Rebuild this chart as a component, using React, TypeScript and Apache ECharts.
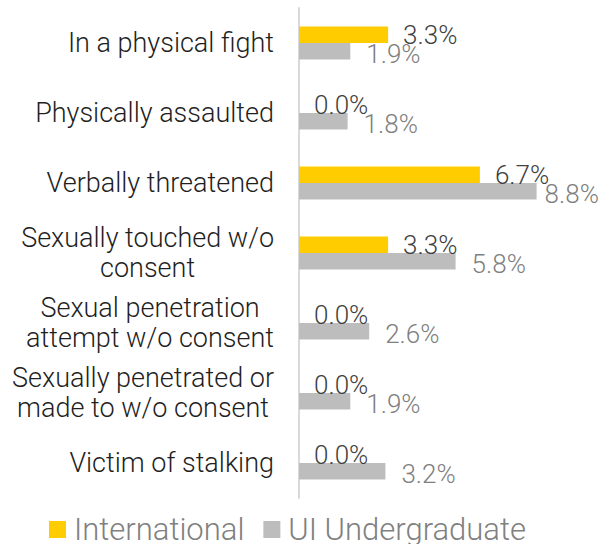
import React, { useEffect, useRef } from "react";
import * as echarts from "echarts";

const categories = [
  "In a physical fight",
  "Physically assaulted",
  "Verbally threatened",
  "Sexually touched w/o\nconsent",
  "Sexual penetration\nattempt w/o consent",
  "Sexually penetrated or\nmade to w/o consent",
  "Victim of stalking",
];
const internationalValues = [3.3, 0.0, 6.7, 3.3, 0.0, 0.0, 0.0];
const uiUndergradValues = [1.9, 1.8, 8.8, 5.8, 2.6, 1.9, 3.2];
const seriesNames = ["International", "UI Undergraduate"];

const FONT = "Roboto";

export default function App() {
  const ref = useRef<HTMLDivElement>(null);
  useEffect(() => {
    document.body.style.margin = "0";
    if (!ref.current) return;
    const chart = echarts.init(ref.current, null, { renderer: "svg" });
    const maxUi = Math.max(...uiUndergradValues);
    const fmt = (p: any) => Number(p.value).toFixed(1) + "%";
    chart.setOption({
      animation: false,
      grid: { left: 299, top: 8, width: 270, height: 490, containLabel: false },
      legend: {
        data: seriesNames,
        left: 49,
        top: 514,
        padding: 0,
        icon: "rect",
        itemWidth: 17,
        itemHeight: 17,
        itemGap: 19,
        textStyle: {
          fontFamily: FONT,
          fontWeight: 300,
          fontSize: 31,
          lineHeight: 30,
          color: "#808080",
          padding: [0, 0, 0, 3],
        },
      },
      xAxis: {
        type: "value",
        min: 0,
        max: 10,
        show: false,
      },
      yAxis: {
        type: "category",
        inverse: true,
        data: categories,
        axisLine: { show: true, lineStyle: { color: "#d9d9d9", width: 2 } },
        axisTick: { show: false },
        axisLabel: {
          margin: 25,
          formatter: (v: string) =>
            v
              .split("\n")
              .map((l) => "{c|" + l + "}")
              .join("\n"),
          rich: {
            c: {
              align: "center",
              fontFamily: FONT,
              fontWeight: 300,
              fontSize: 27,
              lineHeight: 30,
              color: "#1f1f1f",
            },
          },
        },
        splitLine: { show: false },
      },
      series: [
        {
          name: seriesNames[0],
          type: "bar",
          data: internationalValues,
          barWidth: 16.5,
          barGap: "0%",
          itemStyle: { color: "#FFCC00" },
          label: {
            show: true,
            position: "right",
            distance: 15,
            formatter: fmt,
            fontFamily: FONT,
            fontWeight: 300,
            fontSize: 26,
            color: "#404040",
          },
        },
        {
          name: seriesNames[1],
          type: "bar",
          data: uiUndergradValues.map((v) =>
            v === maxUi ? { value: v, label: { distance: 8 } } : v
          ),
          barWidth: 16.5,
          barGap: "0%",
          itemStyle: { color: "#BDBDBD" },
          label: {
            show: true,
            position: "right",
            distance: 16,
            offset: [0, 3],
            formatter: fmt,
            fontFamily: FONT,
            fontWeight: 300,
            fontSize: 26,
            color: "#808080",
          },
        },
      ],
    });
    return () => chart.dispose();
  }, []);
  return <div ref={ref} style={{ width: 613, height: 544 }} />;
}
